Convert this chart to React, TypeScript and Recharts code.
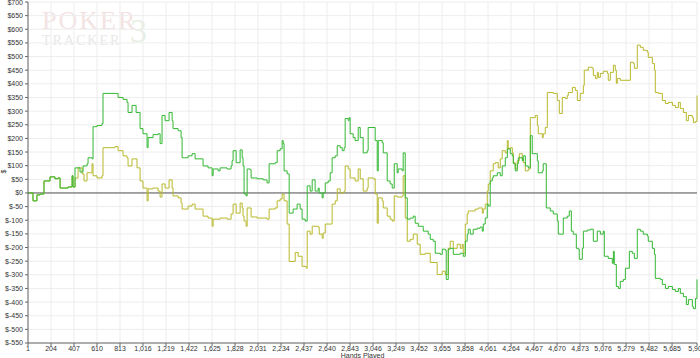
import { LineChart, Line, XAxis, YAxis, CartesianGrid, ReferenceLine } from "recharts";

// hands played tick marks (every 203 hands, last one is the end of the sample)
const xTicks = [
  1, 204, 407, 610, 813, 1016, 1219, 1422, 1625, 1828, 2031, 2234, 2437, 2640, 2843,
  3046, 3249, 3452, 3655, 3858, 4061, 4264, 4467, 4670, 4873, 5076, 5279, 5482, 5685, 5905,
];
const yTicks = [
  -550, -500, -450, -400, -350, -300, -250, -200, -150, -100, -50, 0, 50, 100, 150, 200,
  250, 300, 350, 400, 450, 500, 550, 600, 650, 700,
];

// green line: actual winnings
const greenHands = [
  1, 45, 80, 107, 142, 195, 239, 266, 284, 310, 354, 390, 398, 416, 460, 487, 522, 531, 566, 575,
  610, 654, 663, 769, 796, 840, 875, 884, 919, 955, 990, 1016, 1052, 1061, 1105, 1149, 1167, 1184,
  1211, 1246, 1273, 1281, 1326, 1352, 1361, 1414, 1449, 1476, 1546, 1590, 1626, 1635, 1679, 1696,
  1758, 1793, 1802, 1811, 1838, 1873, 1891, 1899, 1908, 1926, 1935, 1961, 1970, 2023, 2076, 2111,
  2129, 2182, 2200, 2226, 2244, 2253, 2261, 2288, 2306, 2341, 2376, 2403, 2420, 2447, 2465, 2491,
  2509, 2535, 2562, 2571, 2597, 2606, 2624, 2650, 2668, 2685, 2712, 2730, 2756, 2774, 2791, 2800,
  2827, 2835, 2844, 2871, 2888, 2915, 2933, 2959, 2994, 3003, 3065, 3083, 3092, 3127, 3136, 3171,
  3197, 3215, 3233, 3259, 3268, 3303, 3312, 3330, 3348, 3374, 3401, 3418, 3445, 3489, 3533, 3551,
  3577, 3595, 3639, 3657, 3683, 3692, 3710, 3727, 3754, 3816, 3842, 3860, 3877, 3886, 3904, 3930,
  3966, 3992, 4010, 4019, 4036, 4054, 4063, 4080, 4098, 4107, 4142, 4169, 4186, 4213, 4231, 4257,
  4275, 4284, 4301, 4319, 4328, 4363, 4372, 4390, 4416, 4434, 4451, 4496, 4504, 4540, 4548, 4575,
  4610, 4637, 4672, 4681, 4725, 4760, 4778, 4796, 4813, 4840, 4858, 4866, 4893, 4902, 4937, 4963,
  4990, 5025, 5052, 5078, 5087, 5122, 5158, 5167, 5175, 5193, 5211, 5228, 5255, 5273, 5308, 5334,
  5352, 5378, 5405, 5431, 5467, 5475, 5511, 5529, 5537, 5582, 5599, 5626, 5652, 5688, 5714, 5741,
  5758, 5785, 5811, 5829, 5864, 5873, 5891, 5905,
];
const greenWinnings = [
  0, -29, -7, -4, 44, 59, 52, 55, 18, 18, 22, 63, 22, 92, 77, 99, 107, 129, 125, 243,
  247, 254, 365, 365, 350, 343, 332, 295, 321, 295, 236, 217, 166, 203, 214, 217, 181, 284,
  265, 295, 265, 236, 228, 203, 129, 136, 144, 125, 99, 92, 63, 88, 81, 92,
  88, 99, 118, 155, 111, 158, 129, 99, -4, -11, 88, 85, 55, 52, 48, 37,
  107, 111, 155, 162, 192, 181, 81, 70, -74, -59, -41, -59, -96, -103, 26, 7,
  48, 7, 18, 0, -18, 0, 37, 44, 74, 129, 136, 173, 166, 155, 166, 273,
  265, 276, 217, 203, 192, 240, 203, 147, 155, 240, 192, 81, 192, 184, 147, 44,
  33, 18, 107, 74, 88, 81, 147, -18, -96, -92, -85, -111, -122, -140, -151, -170,
  -177, -221, -225, -206, -210, -317, -206, -203, -225, -221, -232, -177, -151, -133, -151, -133,
  -129, -125, -140, -114, -92, -41, -48, 44, 55, 63, 74, 63, 99, 129, 162, 144,
  136, 107, 81, 107, 129, 118, 136, 99, 92, 210, 144, 118, 74, 81, 107, -55,
  -66, -77, -103, -151, -92, -85, -66, -140, -151, -203, -206, -243, -203, -140, -136, -133,
  -177, -140, -151, -140, -232, -240, -258, -214, -262, -343, -350, -324, -317, -276, -214, -221,
  -240, -133, -140, -151, -158, -177, -203, -225, -313, -317, -335, -350, -343, -354, -361, -350,
  -368, -380, -409, -391, -416, -424, -387, -317,
];

// olive line: all-in adjusted winnings
const yellowHands = [
  1, 45, 80, 107, 142, 195, 239, 266, 284, 310, 354, 390, 398, 416, 443, 478, 495, 522, 566, 575,
  610, 654, 663, 769, 796, 840, 875, 884, 919, 963, 990, 1016, 1052, 1061, 1105, 1149, 1167, 1184,
  1211, 1246, 1273, 1281, 1326, 1352, 1361, 1414, 1449, 1476, 1546, 1590, 1626, 1635, 1696, 1758,
  1793, 1811, 1838, 1873, 1891, 1899, 1908, 1926, 1935, 1970, 2023, 2111, 2129, 2182, 2200, 2226,
  2244, 2261, 2288, 2306, 2359, 2385, 2420, 2456, 2465, 2491, 2509, 2562, 2571, 2597, 2606, 2624,
  2685, 2712, 2730, 2756, 2791, 2800, 2827, 2844, 2888, 2915, 2933, 2959, 2994, 3003, 3047, 3065,
  3083, 3092, 3127, 3136, 3171, 3197, 3215, 3233, 3259, 3303, 3312, 3330, 3348, 3374, 3401, 3436,
  3462, 3507, 3551, 3612, 3657, 3683, 3710, 3727, 3754, 3789, 3816, 3833, 3842, 3860, 3877, 3886,
  3948, 3975, 4010, 4019, 4036, 4054, 4063, 4080, 4107, 4125, 4151, 4169, 4186, 4213, 4231, 4239,
  4257, 4275, 4284, 4301, 4319, 4337, 4363, 4372, 4390, 4416, 4434, 4478, 4496, 4504, 4540, 4548,
  4566, 4584, 4637, 4672, 4690, 4716, 4743, 4760, 4769, 4805, 4831, 4849, 4875, 4902, 4910, 4946,
  4981, 4990, 5008, 5025, 5034, 5052, 5078, 5114, 5122, 5140, 5167, 5184, 5193, 5202, 5228, 5317,
  5343, 5352, 5378, 5405, 5431, 5467, 5475, 5511, 5529, 5537, 5564, 5599, 5626, 5652, 5688, 5714,
  5741, 5758, 5785, 5811, 5829, 5864, 5873, 5891, 5905,
];
const yellowWinnings = [
  0, -29, -7, -4, 44, 59, 52, 55, 18, 18, 22, 63, 22, 55, 92, 70, 44, 74, 107, 63,
  55, 63, 166, 170, 155, 136, 129, 99, 125, 92, 44, 18, -29, 15, 18, 7, -15, 33,
  18, 48, 18, -11, -18, -37, -59, -48, -41, -59, -85, -92, -122, -96, -92, -96,
  -77, -41, -74, -37, -55, -85, -103, -122, -55, -88, -92, -96, -59, -55, -29, -22,
  -4, -29, -114, -251, -218, -232, -269, -276, -140, -151, -122, -125, -151, -166, -147, -114,
  -41, -29, 15, 0, 7, 99, 88, 55, 44, 88, 52, 7, 18, 55, 52, -4,
  -111, -18, -29, -55, -85, -96, -103, -11, -15, -11, 63, -92, -177, -170, -151, -188,
  -225, -221, -255, -299, -287, -299, -203, -177, -203, -188, -203, -188, -221, -114, -77, -66,
  -59, -55, -74, -59, -41, 7, 33, 81, 107, 111, 92, 125, 155, 147, 192, 162,
  166, 147, 111, 88, 118, 144, 125, 111, 81, 88, 276, 284, 247, 217, 203, 217,
  240, 368, 365, 339, 291, 350, 346, 357, 368, 387, 376, 339, 365, 394, 450, 461,
  457, 431, 420, 442, 424, 438, 446, 438, 413, 442, 468, 450, 402, 420, 413, 479,
  475, 457, 542, 534, 523, 516, 497, 475, 450, 368, 365, 339, 328, 332, 321, 313,
  332, 310, 295, 265, 284, 276, 258, 262, 357,
];

const greenData = greenHands.map((h, i) => ({ hand: h, value: greenWinnings[i] }));
const yellowData = yellowHands.map((h, i) => ({ hand: h, value: yellowWinnings[i] }));

const fmtMoney = (v: number) => (v < 0 ? `$-${-v}` : `$${v}`);
const fmtHands = (v: number) => v.toLocaleString("en-US");

export default function App() {
  return (
    <div style={{ position: "relative", width: 700, height: 358, background: "#fff", overflow: "hidden" }}>
      <style>{"body{margin:0}"}</style>
      {/* faint logo watermark */}
      <div style={{ position: "absolute", left: 42, top: 8, fontFamily: "'Liberation Serif', serif", lineHeight: 1 }}>
        <div style={{ fontSize: 26, color: "#f3e3e3", letterSpacing: 2 }}>POKER</div>
        <div style={{ fontSize: 14, color: "#e8e8e8", letterSpacing: 2, marginTop: 0 }}>TRACKER</div>
        <div style={{ position: "absolute", left: 88, top: 6, fontSize: 34, color: "#e6efe2" }}>3</div>
      </div>
      <div style={{ position: "absolute", left: 0, top: 0 }}>
        <LineChart width={700} height={358} margin={{ top: 2, right: 3, bottom: 0, left: 0 }}>
          <CartesianGrid stroke="#ededed" />
          <XAxis
            type="number"
            dataKey="hand"
            domain={[1, 5905]}
            ticks={xTicks}
            interval={0}
            height={15}
            tickSize={3}
            tickMargin={0}
            tickFormatter={fmtHands}
            tick={{ fontSize: 7, fill: "#333", fontFamily: "'Liberation Sans', Arial, sans-serif" }}
            stroke="#666"
          />
          <YAxis
            type="number"
            domain={[-550, 700]}
            ticks={yTicks}
            interval={0}
            width={28}
            tickSize={3}
            tickFormatter={fmtMoney}
            tick={{ fontSize: 7, fill: "#333", fontFamily: "'Liberation Sans', Arial, sans-serif" }}
            stroke="#666"
          />
          <ReferenceLine y={0} stroke="#555" />
          <Line
            data={yellowData}
            dataKey="value"
            type="stepAfter"
            stroke="#b8b82c"
            strokeWidth={1}
            dot={false}
            isAnimationActive={false}
          />
          <Line
            data={greenData}
            dataKey="value"
            type="stepAfter"
            stroke="#33b833"
            strokeWidth={1}
            dot={false}
            isAnimationActive={false}
          />
        </LineChart>
      </div>
      <div
        style={{
          position: "absolute", left: 2, top: 168, fontSize: 7, color: "#333",
          fontFamily: "'Liberation Sans', Arial, sans-serif", transform: "rotate(-90deg)",
        }}
      >
        $
      </div>
      <div
        style={{
          position: "absolute", left: 0, width: 725, textAlign: "center", top: 352, fontSize: 7,
          color: "#333", fontFamily: "'Liberation Sans', Arial, sans-serif", lineHeight: 1,
        }}
      >
        Hands Played
      </div>
    </div>
  );
}
